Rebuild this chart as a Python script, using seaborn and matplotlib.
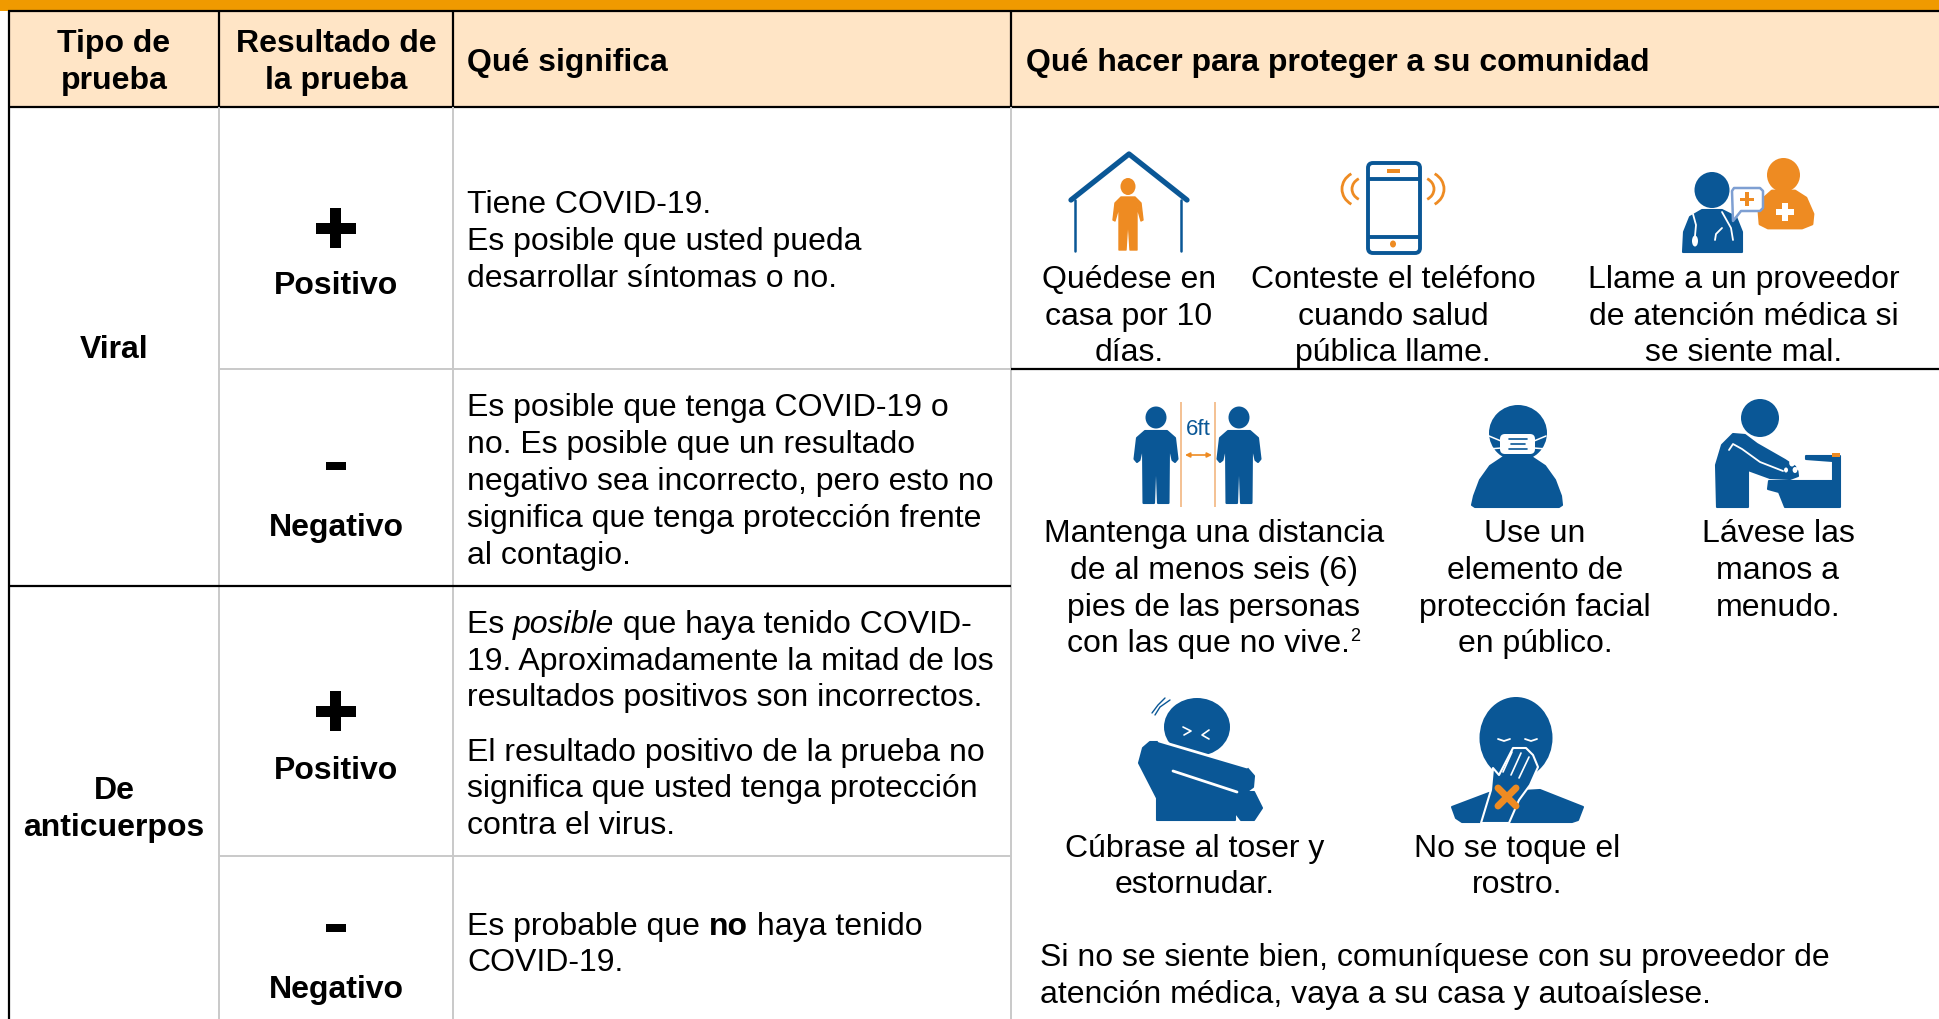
import matplotlib
matplotlib.use("Agg")
import matplotlib.pyplot as plt
import seaborn as sns
from matplotlib.patches import Ellipse, FancyBboxPatch, Polygon, Rectangle, Arc

# --- table content
header_type = ["Tipo de", "prueba"]
header_result = ["Resultado de", "la prueba"]
header_meaning = "Qué significa"
header_action = "Qué hacer para proteger a su comunidad"

type_viral = ["Viral"]
type_antibody = ["De", "anticuerpos"]
result_pos = "Positivo"
result_neg = "Negativo"

viral_pos_text = ["Tiene COVID-19.", "Es posible que usted pueda", "desarrollar síntomas o no."]
viral_neg_text = ["Es posible que tenga COVID-19 o", "no. Es posible que un resultado",
                  "negativo sea incorrecto, pero esto no", "significa que tenga protección frente",
                  "al contagio."]
anti_pos_text_rest = ["19. Aproximadamente la mitad de los", "resultados positivos son incorrectos."]
anti_pos_text2 = ["El resultado positivo de la prueba no", "significa que usted tenga protección", "contra el virus."]

stay_home = ["Quédese en", "casa por 10", "días."]
answer_phone = ["Conteste el teléfono", "cuando salud", "pública llame."]
call_doctor = ["Llame a un proveedor", "de atención médica si", "se siente mal."]
keep_distance = ["Mantenga una distancia", "de al menos seis (6)", "pies de las personas"]
keep_distance_last = "con las que no vive."
use_mask = ["Use un", "elemento de", "protección facial", "en público."]
wash_hands = ["Lávese las", "manos a", "menudo."]
cover_cough = ["Cúbrase al toser y", "estornudar."]
no_touch = ["No se toque el", "rostro."]
closing_text = ["Si no se siente bien, comuníquese con su proveedor de",
                "atención médica, vaya a su casa y autoaíslese."]

BLUE = "#0A5796"
ORANGE = "#EE8B22"
BAND = "#F09A00"
HEAD = "#FFE5C6"
GREY = "#C9C9C9"
FS = 23

sns.set_theme(style="white")
plt.rcParams['font.family'] = ['Liberation Sans', 'DejaVu Sans']

fig = plt.figure(figsize=(19.4, 10.19), dpi=100)
ax = fig.add_axes([0, 0, 1, 1])
ax.set_xlim(0, 1940)
ax.set_ylim(1019, 0)
ax.axis("off")


def txt(x, y, s, ha="left", weight="normal", style="normal", size=FS, color="black"):
    return ax.text(x, y + 11, s, ha=ha, va="baseline", fontsize=size, fontweight=weight,
                   fontstyle=style, color=color)


def lines(x, ys, rows, ha="left", weight="normal"):
    for y, row in zip(ys, rows):
        txt(x, y, row, ha=ha, weight=weight)


def runs(x, y, parts):
    # text pieces of mixed style on one line
    renderer = fig.canvas.get_renderer()
    for s, weight, style in parts:
        t = txt(x, y, s, weight=weight, style=style)
        x += t.get_window_extent(renderer).width


def hline(x0, x1, y, color="black", lw=1.6):
    ax.plot([x0, x1], [y, y], color=color, lw=lw, solid_capstyle="butt")


def vline(x, y0, y1, color="black", lw=1.6):
    ax.plot([x, x], [y0, y1], color=color, lw=lw, solid_capstyle="butt")


def rect(x0, y0, x1, y1, color):
    ax.add_patch(Rectangle((x0, y0), x1 - x0, y1 - y0, fc=color, ec="none"))


def poly(pts, color=BLUE, ec=None, lw=1.5):
    # the edge in the same colour rounds the corners off
    ax.add_patch(Polygon(pts, closed=True, fc=color, ec=ec or color, lw=lw, joinstyle="round"))


def ell(cx, cy, rx, ry, color=BLUE):
    ax.add_patch(Ellipse((cx, cy), 2 * rx, 2 * ry, fc=color, ec="none"))


def stroke(xs, ys, color="white", lw=1.5):
    ax.plot(xs, ys, color=color, lw=lw, solid_capstyle="round", solid_joinstyle="round")


def plus(cx, cy):
    rect(cx - 20, cy - 5.5, cx + 20, cy + 5.5, "black")
    rect(cx - 5.5, cy - 20, cx + 5.5, cy + 20, "black")


def minus(cx, cy):
    rect(cx - 10, cy - 4, cx + 10, cy + 4, "black")


def person(cx):
    ell(cx, 417.5, 10.5, 11)
    poly([(cx - 11, 431), (cx + 11, 431), (cx + 19, 438), (cx + 21.5, 459), (cx + 19, 462), (cx + 16.5, 460),
          (cx + 13, 444), (cx + 12.5, 503), (cx + 2, 503), (cx + 0.7, 466), (cx - 0.7, 466), (cx - 2, 503),
          (cx - 12.5, 503), (cx - 13, 444), (cx - 16.5, 460), (cx - 19, 462), (cx - 21.5, 459), (cx - 19, 438)])


# --- table frame
rect(0, 0, 1940, 11, BAND)
rect(10, 12, 1940, 107, HEAD)
hline(8, 1940, 11)
hline(8, 1940, 107)
vline(9, 11, 1019)
for x in (219, 453, 1011):
    vline(x, 11, 107)
    vline(x, 107, 1019, color=GREY, lw=1.4)
hline(219, 1011, 369, color=GREY, lw=1.4)
hline(1011, 1940, 369)
hline(9, 1011, 586)
hline(219, 1011, 856, color=GREY, lw=1.4)

# --- headers
lines(114, [41, 78], header_type, ha="center", weight="bold")
lines(336, [41, 78], header_result, ha="center", weight="bold")
txt(467, 60, header_meaning, weight="bold")
txt(1026, 60, header_action, weight="bold")

# --- first columns
lines(114, [347], type_viral, ha="center", weight="bold")
lines(114, [788, 825], type_antibody, ha="center", weight="bold")
plus(336, 228)
txt(336, 283, result_pos, ha="center", weight="bold")
minus(336, 466)
txt(336, 525, result_neg, ha="center", weight="bold")
plus(336, 711)
txt(336, 768, result_pos, ha="center", weight="bold")
minus(336, 928)
txt(336, 987, result_neg, ha="center", weight="bold")

# --- meaning column
lines(467, [202, 239, 276], viral_pos_text)
lines(467, [405, 442, 479, 516, 553], viral_neg_text)
runs(467, 622, [("Es ", "normal", "normal"), ("posible", "normal", "italic"),
                (" que haya tenido COVID-", "normal", "normal")])
lines(467, [659, 695], anti_pos_text_rest)
lines(467, [750, 786, 823], anti_pos_text2)
runs(467, 924, [("Es probable que ", "normal", "normal"), ("no", "bold", "normal"),
                (" haya tenido", "normal", "normal")])
txt(467, 960, "COVID-19.")

# --- action captions
lines(1129, [277, 314, 350], stay_home, ha="center")
lines(1393, [277, 314, 350], answer_phone, ha="center")
lines(1744, [277, 314, 350], call_doctor, ha="center")
lines(1214, [531, 568, 605], keep_distance, ha="center")
txt(1067, 641, keep_distance_last)
txt(1350, 630, "2", size=13)
lines(1535, [531, 568, 605, 641], use_mask, ha="center")
lines(1778, [531, 568, 605], wash_hands, ha="center")
lines(1195, [846, 882], cover_cough, ha="center")
lines(1517, [846, 882], no_touch, ha="center")
lines(1040, [955, 992], closing_text)

# --- icon: stay at home
stroke([1071, 1129, 1187], [200, 154, 200], color=BLUE, lw=3.8)
stroke([1075.5, 1075.5], [200, 251], color=BLUE, lw=1.8)
stroke([1181, 1181], [200, 251], color=BLUE, lw=1.8)
ell(1128, 186.5, 7.5, 8.5, ORANGE)
poly([(1121, 197), (1135, 197), (1141, 203), (1143, 220), (1141, 221), (1137, 207), (1137, 250), (1130, 250),
      (1128.5, 226), (1127.5, 226), (1126, 250), (1119, 250), (1119, 207), (1115, 221), (1113, 220), (1115, 203)],
     ORANGE, lw=1)

# --- icon: phone
ax.add_patch(FancyBboxPatch((1368, 163), 52, 90, boxstyle="round,pad=0,rounding_size=5", fc="white", ec=BLUE, lw=2.8))
hline(1367, 1421, 179, color=BLUE, lw=2.8)
hline(1367, 1421, 237, color=BLUE, lw=2.8)
rect(1387, 169, 1400, 172.5, ORANGE)
ell(1393, 244, 3, 3.5, ORANGE)
ax.add_patch(Arc((1362, 189), 40, 36, theta1=125, theta2=235, ec=ORANGE, lw=2))
ax.add_patch(Arc((1366, 189), 28, 24, theta1=125, theta2=235, ec=ORANGE, lw=2))
ax.add_patch(Arc((1424, 189), 40, 36, theta1=-55, theta2=55, ec=ORANGE, lw=2))
ax.add_patch(Arc((1420, 189), 28, 24, theta1=-55, theta2=55, ec=ORANGE, lw=2))

# --- icon: call a doctor
ell(1783.5, 175, 16.5, 17, ORANGE)
poly([(1772, 191), (1795, 191), (1806, 198), (1813, 214), (1812, 224), (1802, 228), (1768, 228), (1760, 224),
      (1759, 212), (1763, 199)], ORANGE, lw=2)
rect(1782, 203, 1788, 221, "white")
rect(1776, 209, 1794, 215, "white")
ell(1712, 190, 17.5, 18)
poly([(1702, 210), (1722, 210), (1736, 217), (1742, 232), (1742, 252), (1683, 252), (1684, 232), (1690, 217)])
stroke([1693, 1696, 1695], [214, 225, 236], lw=1.3)
ell(1695, 241, 3, 5.5, "white")
stroke([1722, 1731, 1733], [212, 228, 240], lw=1.3)
stroke([1722, 1716, 1715], [228, 234, 240], lw=1.3)
poly([(1734, 188), (1760, 188), (1763, 191), (1763, 208), (1760, 211), (1741, 211), (1733, 221), (1732, 191)],
     "white", ec="#7E9FD2", lw=1.8)
rect(1745.5, 192, 1749, 206, ORANGE)
rect(1740, 197.5, 1754, 201, ORANGE)

# --- icon: distance
person(1156)
person(1239)
vline(1181, 402, 507, color="#F2B680", lw=1.2)
vline(1215, 402, 507, color="#F2B680", lw=1.2)
ax.text(1198, 435, "6ft", ha="center", va="baseline", fontsize=16, color=BLUE)
ax.annotate("", xy=(1185, 455), xytext=(1212, 455), arrowprops=dict(arrowstyle="<|-|>", color=ORANGE, lw=1.2,
                                                                     mutation_scale=7, shrinkA=0, shrinkB=0))

# --- icon: mask
ell(1518, 433, 29, 28)
poly([(1505, 456), (1530, 456), (1545, 466), (1555, 480), (1561, 496), (1562, 505), (1559, 507), (1475, 507),
      (1472, 505), (1474, 496), (1480, 480), (1490, 466)])
ax.add_patch(FancyBboxPatch((1500, 434), 35, 20, boxstyle="round,pad=0,rounding_size=5", fc="white", ec="none"))
stroke([1489, 1501], [436, 441], lw=1.1)
stroke([1489, 1501], [449, 448], lw=1.1)
stroke([1534, 1546], [441, 436], lw=1.1)
stroke([1534, 1546], [448, 449], lw=1.1)
stroke([1509, 1527], [439, 439], color=BLUE, lw=1.2)
stroke([1511, 1525], [444, 444], color=BLUE, lw=1.2)
stroke([1509, 1527], [449, 449], color=BLUE, lw=1.2)

# --- icon: wash hands
ell(1760, 418, 19, 19)
poly([(1722, 445), (1733, 434), (1745, 435), (1757, 444), (1785, 460), (1797, 468), (1798, 476), (1790, 479), (1770, 478),
      (1748, 470), (1748, 507), (1717, 507), (1716, 465)])
stroke([1729, 1733, 1742, 1760, 1783], [450, 444, 449, 462, 471], lw=1.3)
poly([(1769, 481), (1833, 481), (1833, 461), (1806, 459), (1806, 456), (1834, 456), (1840, 456),
      (1840, 507), (1785, 507), (1779, 492), (1768, 489)])
rect(1832, 453, 1840, 457, ORANGE)
for bx, by, br in ((1792, 463, 3.5), (1799, 467, 3.5), (1795, 470, 3), (1786, 470, 2.5), (1798, 453, 2)):
    ell(bx, by, br * 0.8, br, "white")

# --- icon: cough into elbow
ell(1197, 727, 33, 29)
poly([(1150, 742), (1160, 742), (1247, 768), (1254, 776), (1253, 787), (1246, 792), (1254, 792), (1262, 808), (1254, 820),
      (1241, 820), (1235, 812), (1235, 820), (1157, 820), (1157, 798), (1139, 763), (1143, 748)])
stroke([1159, 1247], [741, 767], lw=2.0)
stroke([1173, 1237], [771, 792], lw=2.0)
stroke([1152, 1158, 1165], [713, 705, 698], color=BLUE, lw=1)
stroke([1155, 1160, 1170], [715, 707, 700], color=BLUE, lw=1)
stroke([1183, 1191, 1184], [727, 731, 735], lw=1.2)
stroke([1209, 1202, 1209], [730, 735, 739], lw=1.2)

# --- icon: do not touch face
ell(1516, 738, 36.5, 41)
poly([(1452, 807), (1489, 793), (1540, 790), (1583, 807), (1578, 820), (1572, 822), (1462, 822), (1456, 818)])
poly([(1481, 823), (1491, 790), (1493, 768), (1499, 775), (1513, 748), (1526, 748), (1533, 755), (1538, 767), (1530, 785),
      (1519, 800), (1509, 823)], ec="white", lw=1.5)
stroke([1503, 1512], [772, 752], lw=1.2)
stroke([1511, 1521], [775, 753], lw=1.2)
stroke([1519, 1529], [778, 757], lw=1.2)
stroke([1498, 1516], [788, 806], color=ORANGE, lw=5)
stroke([1516, 1498], [788, 806], color=ORANGE, lw=5)
stroke([1498, 1504, 1510], [739, 741, 739], lw=1.3)
stroke([1525, 1531, 1537], [739, 741, 739], lw=1.3)

sns.despine(ax=ax, left=True, bottom=True)
fig.savefig("out.png", dpi=100)
